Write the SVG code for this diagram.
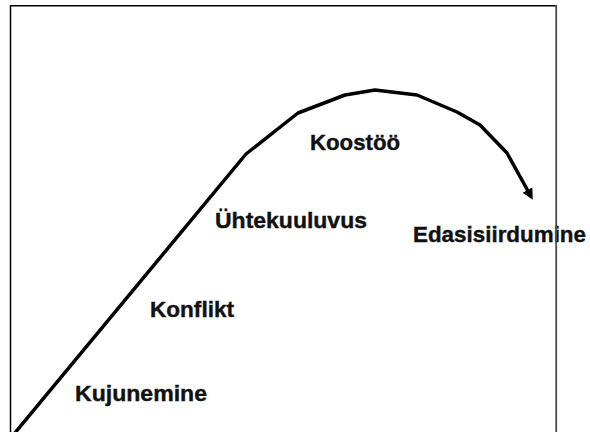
<svg xmlns="http://www.w3.org/2000/svg" width="590" height="432" viewBox="0 0 590 432">
  <style>
    .lbl { font-family: "Liberation Sans", Arial, sans-serif; font-weight: bold; font-size: 22.5px; fill: #111; stroke: #111; stroke-width: 0.4; }
    .curve { fill: none; stroke: #000; stroke-width: 3.5; stroke-linejoin: round; }
  </style>
  <defs>
    <marker id="arrow" viewBox="0 0 10 10" refX="1" refY="5" markerWidth="11" markerHeight="11" markerUnits="userSpaceOnUse" orient="auto">
      <path d="M0,0 L10,5 L0,10 z" fill="#000"/>
    </marker>
  </defs>
  <rect width="590" height="432" fill="#fff"/>
  <g id="connectors">
    <polyline class="curve" marker-end="url(#arrow)" points="14,434 246,154 298,113 345,95 375,90 417,95 457,112 480,125 507,153 528,191"/>
  </g>
  <g id="kujunemine"><text class="lbl" x="75" y="401" textLength="132" lengthAdjust="spacingAndGlyphs">Kujunemine</text></g>
  <g id="konflikt"><text class="lbl" x="150" y="317" textLength="84" lengthAdjust="spacingAndGlyphs">Konflikt</text></g>
  <g id="uhtekuuluvus"><text class="lbl" x="215" y="228" textLength="152" lengthAdjust="spacingAndGlyphs">Ühtekuuluvus</text></g>
  <g id="koostoo"><text class="lbl" x="310" y="150" textLength="90" lengthAdjust="spacingAndGlyphs">Koostöö</text></g>
  <g id="edasisiirdumine"><text class="lbl" x="413" y="242" textLength="173" lengthAdjust="spacingAndGlyphs">Edasisiirdumine</text></g>
  <g id="frame">
    <line x1="10.5" y1="5.75" x2="557" y2="5.75" stroke="#000" stroke-width="1.5"/>
    <line x1="10.5" y1="5" x2="10.5" y2="432" stroke="#000" stroke-width="1.5"/>
    <line x1="556.2" y1="5" x2="556.2" y2="432" stroke="#4a4a4a" stroke-width="1.8"/>
  </g>
</svg>
